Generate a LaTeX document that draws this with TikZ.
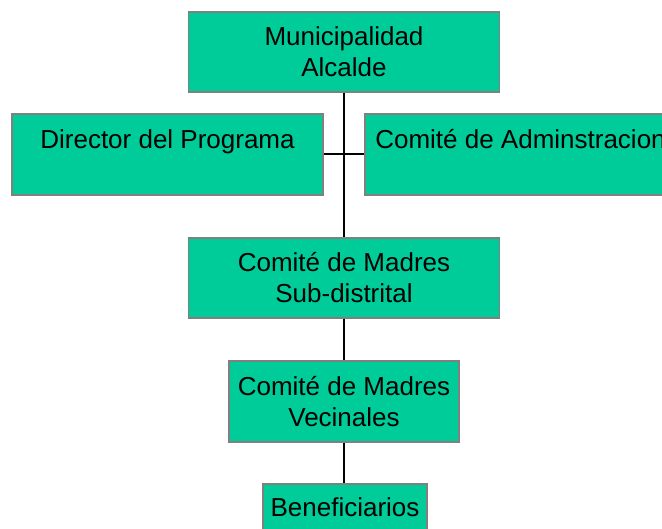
\documentclass[tikz,border=0pt]{standalone}
\usepackage{fontspec}
\setmainfont{Liberation Sans}
\definecolor{boxgreen}{HTML}{00CC99}
\definecolor{boxedge}{HTML}{808080}
\tikzset{unit/.style={rectangle, fill=boxgreen, draw=boxedge, line width=1.5pt,
    inner sep=0pt, minimum height=80pt, align=center,
    font=\fontsize{26}{31}\selectfont},
  link/.style={black, line width=2pt}}

\begin{document}
\begin{tikzpicture}[x=1pt,y=1pt]
    \useasboundingbox (0,0) rectangle (662,-529); \clip (0,0) rectangle (662,-529);
    \node[unit, minimum width=311pt] (muni) at (344,-52) {Municipalidad\\Alcalde};
    \node[unit, minimum width=311pt, minimum height=81pt] (dir) at (167.5,-154.5)
    {Director del Programa\\\mbox{}}; \node[unit, minimum width=311pt,
    minimum height=81pt] (adm) at (520.5,-154.5) {Comité de Adminstracion\\\mbox{}};
    \node[unit, minimum width=311pt] (sub) at (344,-278) {Comité de Madres\\Sub-distrital};
    \node[unit, minimum width=230pt, minimum height=81pt] (vec) at (344,-401.5)
    {Comité de Madres\\Vecinales}; \node[unit, minimum width=164pt, minimum
    height=77pt] (ben) at (345,-522.5) {Beneficiarios\\\mbox{}};
    \draw[link] (dir.east) -- (adm.west); \draw[link] (muni.south) -- (muni.south |- sub.north);
    \draw[link] (sub.south) -- (sub.south |- vec.north); \draw[link] (vec.south) --
    (vec.south |- ben.north);
  \end{tikzpicture}
\end{document}
